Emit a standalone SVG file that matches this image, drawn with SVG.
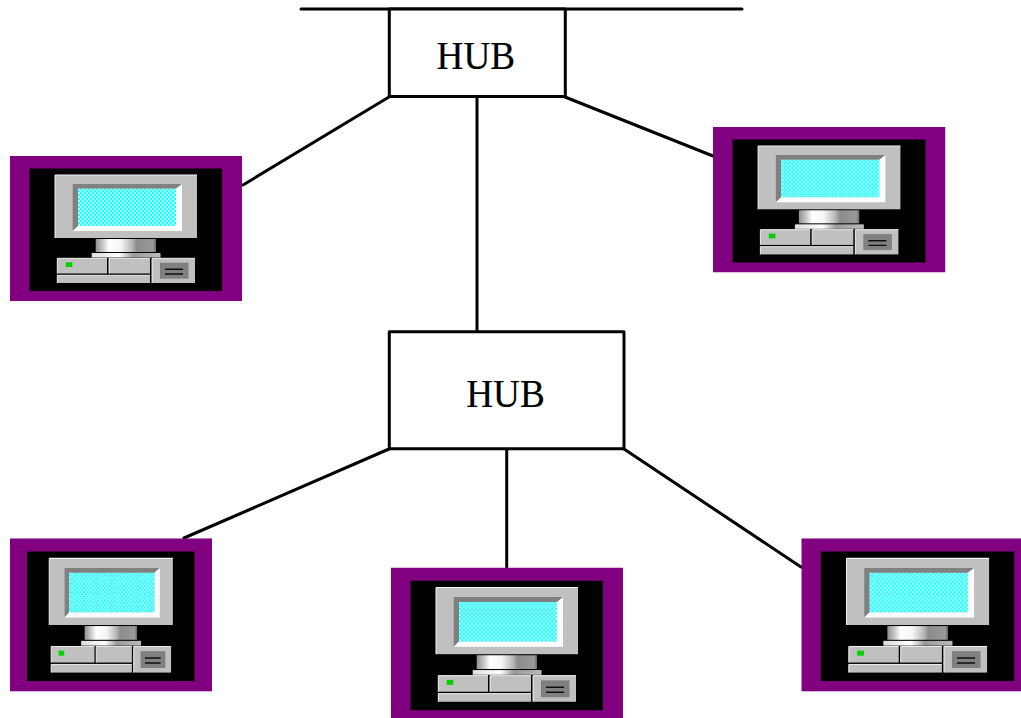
<svg xmlns="http://www.w3.org/2000/svg" width="1021" height="718" viewBox="0 0 1021 718">
<style>
.conn{stroke:#000;stroke-width:3;fill:none;stroke-linecap:round}
.hub{fill:#fff;stroke:#000;stroke-width:3;stroke-linejoin:round}
.lbl{font-family:"Liberation Serif","Times New Roman",serif;font-size:37.2px;fill:#000;text-anchor:middle;stroke:#000;stroke-width:.2}
</style>
<defs>
<filter id="soft" x="-5%" y="-5%" width="110%" height="110%"><feGaussianBlur stdDeviation=".45"/></filter>
<pattern id="dither" width="4" height="4" patternUnits="userSpaceOnUse">
<rect width="4" height="4" fill="#20ffff"/>
<rect width="2" height="2" fill="#a8ffff"/>
<rect x="2" y="2" width="2" height="2" fill="#a8ffff"/>
</pattern>
<linearGradient id="neck" x1="0" x2="1" y1="0" y2="0">
<stop offset="0" stop-color="#909090"/><stop offset=".12" stop-color="#c8c8c8"/><stop offset=".22" stop-color="#fff"/><stop offset=".42" stop-color="#f4f4f4"/><stop offset=".6" stop-color="#b8b8b8"/><stop offset=".68" stop-color="#8c8c8c"/><stop offset=".95" stop-color="#999"/><stop offset="1" stop-color="#666"/>
</linearGradient>
<linearGradient id="base" x1="0" x2="1" y1="0" y2="0">
<stop offset="0" stop-color="#ddd"/><stop offset=".4" stop-color="#fff"/><stop offset=".6" stop-color="#999"/><stop offset="1" stop-color="#bbb"/>
</linearGradient>
<symbol id="pc" viewBox="0 0 232 145" preserveAspectRatio="none">
<rect width="232" height="145" fill="#800080"/>
<rect x="19.500" y="12.500" width="192.500" height="122.500" fill="#000"/>
<g filter="url(#soft)">
<rect x="45" y="19" width="142" height="63" fill="#c0c0c0"/>
<path d="M45 19H187M45 19V82" stroke="#f4f4f4" stroke-width="1" fill="none"/>
<polygon points="62.700,28 172,28 166,32.700 68,32.700 68,70 62.700,75" fill="#808080"/>
<polygon points="172,28 172,75 62.700,75 68,70 166,70 166,32.700" fill="#fff"/>
<rect x="68" y="32.700" width="98" height="37.300" fill="url(#dither)"/>
<rect x="85.700" y="83" width="60.300" height="13" fill="url(#neck)"/>
<rect x="81.700" y="97" width="68.800" height="4.500" fill="url(#base)"/>
<rect x="47.300" y="102.300" width="49.700" height="15.200" fill="#c0c0c0"/>
<rect x="99" y="102.300" width="41" height="15.200" fill="#c0c0c0"/>
<rect x="47.300" y="119.300" width="92.700" height="7.700" fill="#c0c0c0"/>
<rect x="142" y="102.300" width="43" height="24.700" fill="#c0c0c0"/>
<path d="M47.300 117.500V102.300H97M99 117.500V102.300H140M47.300 127V119.300H140M142 127V102.300H185" stroke="#fff" stroke-width=".9" fill="none"/>
<rect x="150" y="106.700" width="28.500" height="16" fill="#808080"/>
<path d="M155 113.300H173M155 118H173" stroke="#111" stroke-width="1.400"/>
<rect x="55.700" y="106.300" width="6.600" height="4.700" fill="#00d000"/>
</g>
</symbol>
</defs>
<g id="connectors">
<line class="conn" x1="301" y1="9" x2="742" y2="9"/>
<line class="conn" x1="389" y1="97" x2="243" y2="185"/>
<line class="conn" x1="565" y1="97" x2="713" y2="156"/>
<line class="conn" x1="477" y1="97" x2="477" y2="331"/>
<line class="conn" x1="389" y1="449" x2="184" y2="538"/>
<line class="conn" x1="506.700" y1="449" x2="506.700" y2="567"/>
<line class="conn" x1="624" y1="449" x2="801" y2="567"/>
</g>
<g id="hub-top"><rect class="hub" x="389.300" y="9" width="176" height="87.500"/><text class="lbl" transform="translate(475.800 69.300) scale(1 1.06)">HUB</text></g>
<g id="hub-bottom"><rect class="hub" x="389.300" y="331.700" width="234.700" height="117"/><text class="lbl" transform="translate(505.500 407) scale(1 1.06)">HUB</text></g>
<g id="pc-left"><use href="#pc" x="10" y="156" width="232" height="145"/></g>
<g id="pc-right"><use href="#pc" x="713" y="127" width="232.500" height="145.500"/></g>
<g id="pc-bottom-left"><use href="#pc" x="10" y="538.300" width="202" height="153.300"/></g>
<g id="pc-bottom-middle"><use href="#pc" x="391" y="567.500" width="232" height="153.300"/></g>
<g id="pc-bottom-right"><use href="#pc" x="801.300" y="538.300" width="233" height="153.300"/></g>
</svg>
